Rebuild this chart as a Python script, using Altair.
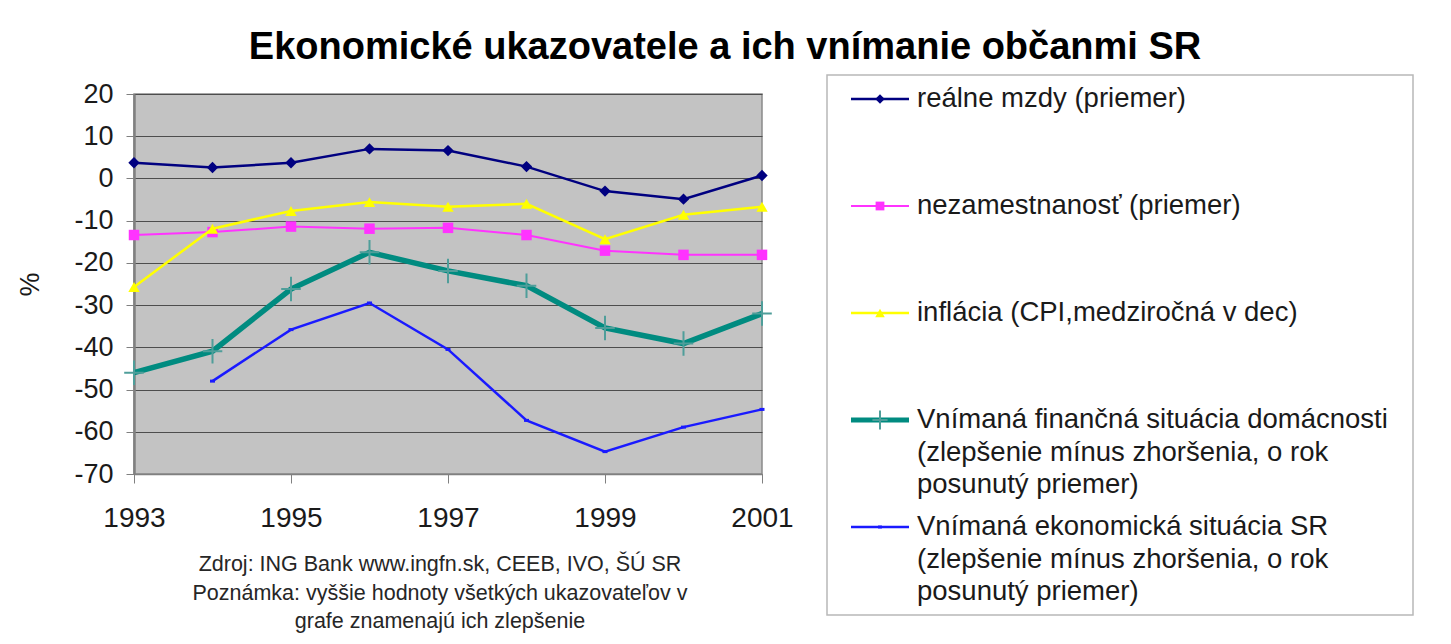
import altair as alt
import pandas as pd

# ---- data ----
years = [1993, 1994, 1995, 1996, 1997, 1998, 1999, 2000, 2001]
realne_mzdy = [3.7, 2.6, 3.7, 7.0, 6.6, 2.8, -3.0, -4.9, 0.7]
nezamestnanost = [-13.4, -12.7, -11.4, -11.9, -11.7, -13.4, -17.1, -18.1, -18.1]
inflacia = [-25.7, -11.9, -7.7, -5.6, -6.7, -6.0, -14.4, -8.6, -6.7]
financna_situacia = [-46.0, -40.9, -26.2, -17.5, -21.9, -25.4, -35.4, -39.1, -32.0]
ekonomicka_situacia = [None, -48.0, -35.8, -29.5, -40.5, -57.3, -64.7, -58.9, -54.7]

series_names = [
    "reálne mzdy (priemer)",
    "nezamestnanosť (priemer)",
    "inflácia (CPI,medziročná v dec)",
    "Vnímaná finančná situácia domácnosti (zlepšenie mínus zhoršenia, o rok posunutý priemer)",
    "Vnímaná ekonomická situácia SR (zlepšenie mínus zhoršenia, o rok posunutý priemer)",
]
legend_lines = [
    ["reálne mzdy (priemer)"],
    ["nezamestnanosť (priemer)"],
    ["inflácia (CPI,medziročná v dec)"],
    ["Vnímaná finančná situácia domácnosti", "(zlepšenie mínus zhoršenia, o rok", "posunutý priemer)"],
    ["Vnímaná ekonomická situácia SR", "(zlepšenie mínus zhoršenia, o rok", "posunutý priemer)"],
]
series_values = [realne_mzdy, nezamestnanost, inflacia, financna_situacia, ekonomicka_situacia]

title_text = "Ekonomické ukazovatele a ich vnímanie občanmi SR"
note_lines = [
    "Zdroj: ING Bank www.ingfn.sk, CEEB, IVO, ŠÚ SR",
    "Poznámka: vyššie hodnoty všetkých ukazovateľov v",
    "grafe znamenajú ich zlepšenie",
]
y_ticks = list(range(-70, 21, 10))
x_ticks = [1993, 1995, 1997, 1999, 2001]

rows = []
for name, vals in zip(series_names, series_values):
    for yr, v in zip(years, vals):
        if v is not None:
            rows.append({"rok": yr, "hodnota": v, "rad": name})
df = pd.DataFrame(rows)

# ---- styles ----
FONT = "Liberation Sans"
PLUS = "M0,-1L0,1M-0.8,0L0.8,0"
DASH = "M-1,0L1,0"
styles = [
    dict(color="#000080", width=2.5, shape="diamond", size=130, filled=True, mcolor="#000080", sw=1),
    dict(color="#ff33ff", width=2, shape="square", size=110, filled=True, mcolor="#ff33ff", sw=1),
    dict(color="#ffff00", width=2.5, shape="triangle-up", size=130, filled=True, mcolor="#ffff00", sw=1),
    dict(color="#008b80", width=5.5, shape=PLUS, size=600, filled=False, mcolor="#4f9e9a", sw=2),
    dict(color="#1a1aff", width=2.5, shape=DASH, size=25, filled=False, mcolor="#1a1aff", sw=3),
]

X = alt.X(
    "rok:Q",
    scale=alt.Scale(domain=[1993, 2001], nice=False, zero=False),
    axis=alt.Axis(
        values=x_ticks, format="d", grid=False, tickSize=9, tickColor="#808080",
        domainColor="#808080", domainWidth=1.5, labelFontSize=28, labelColor="#1a1a1a",
        labelPadding=21, labelFont=FONT, labelFlush=False,
    ),
    title=None,
)
Y = alt.Y(
    "hodnota:Q",
    scale=alt.Scale(domain=[-70, 20], nice=False, zero=False),
    axis=alt.Axis(
        values=y_ticks, grid=True, gridColor="#4d4d4d", gridWidth=1, tickSize=8,
        tickColor="#808080", domainColor="#808080", domainWidth=2.5, labelFontSize=27,
        labelColor="#1a1a1a", labelPadding=13, labelFont=FONT, labelFlush=False,
        labelExpr="toString(datum.value)",
        title="%", titleFontSize=27, titleFontWeight="normal", titleColor="#1a1a1a",
        titleX=-104, titleY=190, titleAngle=-90, titleBaseline="middle", titleFont=FONT,
    ),
)

one = pd.DataFrame({"a": [0]})
layers = []

# outer frame and legend box
layers.append(
    alt.Chart(one).mark_rect(fillOpacity=0, stroke="#cfcfcf", strokeWidth=2).encode(
        x=alt.value(-128), x2=alt.value(1311), y=alt.value(-89), y2=alt.value(560)
    )
)
layers.append(
    alt.Chart(one).mark_rect(fill="white", stroke="#b8b8b8", strokeWidth=1.5).encode(
        x=alt.value(693), x2=alt.value(1279), y=alt.value(-19), y2=alt.value(521)
    )
)

# data series
for name, st in zip(series_names, styles):
    base = alt.Chart(df).transform_filter(alt.datum.rad == name)
    layers.append(
        base.mark_line(color=st["color"], strokeWidth=st["width"], clip=False).encode(x=X, y=Y)
    )
    layers.append(
        base.mark_point(
            shape=st["shape"], size=st["size"], filled=st["filled"], color=st["mcolor"],
            strokeWidth=st["sw"], opacity=1, clip=False,
        ).encode(x=X, y=Y)
    )

# legend (drawn by hand to keep multi-line labels)
legend_y = [5, 112, 219, 326, 433]
line_h = 32.5
for lines, st, ly in zip(legend_lines, styles, legend_y):
    layers.append(
        alt.Chart(one).mark_rule(color=st["color"], strokeWidth=min(st["width"], 5)).encode(
            x=alt.value(717), x2=alt.value(775), y=alt.value(ly)
        )
    )
    layers.append(
        alt.Chart(one).mark_point(
            shape=st["shape"], size=st["size"] * 0.7 if st["filled"] else st["size"] * 0.6,
            filled=st["filled"], color=st["mcolor"], strokeWidth=st["sw"], opacity=1,
        ).encode(x=alt.value(746), y=alt.value(ly))
    )
    for i, t in enumerate(lines):
        layers.append(
            alt.Chart(one).mark_text(
                text=t, align="left", baseline="middle", fontSize=27.5, font=FONT, color="#1a1a1a"
            ).encode(x=alt.value(783), y=alt.value(ly + i * line_h))
        )

# title
layers.append(
    alt.Chart(one).mark_text(
        text=title_text, align="center", baseline="middle", fontSize=38, fontWeight="bold",
        font=FONT, color="#000000",
    ).encode(x=alt.value(591), y=alt.value(-46))
)
# notes
for i, t in enumerate(note_lines):
    layers.append(
        alt.Chart(one).mark_text(
            text=t, align="center", baseline="middle", fontSize=21.5, font=FONT, color="#262626"
        ).encode(x=alt.value(306), y=alt.value(471 + i * 28.5))
    )

chart = (
    alt.layer(*layers)
    .properties(
        width=628,
        height=380,
        autosize=alt.AutoSizeParams(type="none"),
        padding={"left": 126, "top": 86, "right": 681, "bottom": 162},
        background="white",
    )
    .configure(font=FONT)
    .configure_view(fill="#c3c3c3", stroke="#8a8a8a", strokeWidth=1.5)
)

chart.save("out.html", embed_options={"renderer": "svg", "actions": False})
